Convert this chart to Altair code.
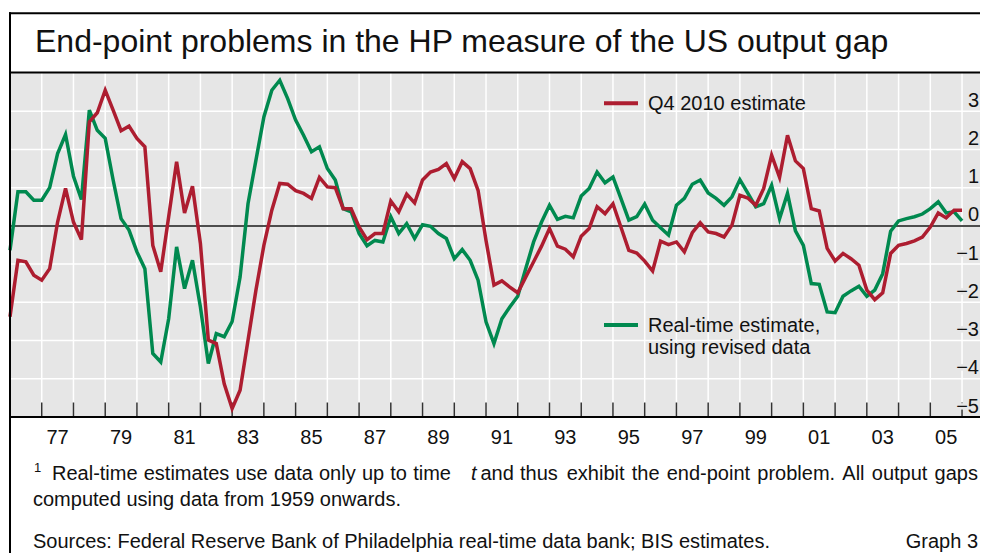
import altair as alt
import pandas as pd

# ---------------- data ----------------
start_year = 1976
n_quarters = 121
quarters = [start_year + 0.25 * i for i in range(n_quarters)]

q4_2010 = [
    -2.38, -0.90, -0.94, -1.29, -1.42, -1.12, 0.10, 0.98, 0.10, -0.36,
    2.72, 2.96, 3.55, 3.03, 2.49, 2.61, 2.29, 2.07, -0.51, -1.20,
    0.24, 1.68, 0.34, 1.04, -0.46, -2.99, -3.08, -4.13, -4.78, -4.30,
    -2.99, -1.68, -0.51, 0.41, 1.11, 1.09, 0.92, 0.85, 0.72, 1.27,
    1.02, 1.00, 0.45, 0.45, -0.03, -0.36, -0.20, -0.20, 0.65, 0.37,
    0.83, 0.60, 1.20, 1.41, 1.48, 1.63, 1.24, 1.68, 1.50, 0.93,
    -0.38, -1.55, -1.44, -1.60, -1.75, -1.34, -0.94, -0.53, -0.07, -0.53,
    -0.61, -0.81, -0.27, -0.07, 0.50, 0.32, 0.58, -0.03, -0.64, -0.71,
    -0.92, -1.18, -0.40, -0.49, -0.42, -0.68, -0.18, 0.08, -0.16, -0.20,
    -0.29, 0.02, 0.80, 0.73, 0.54, 0.98, 1.85, 1.27, 2.37, 1.70,
    1.50, 0.45, 0.39, -0.59, -0.92, -0.72, -0.86, -1.03, -1.68, -1.93,
    -1.75, -0.72, -0.51, -0.46, -0.39, -0.29, -0.03, 0.34, 0.21, 0.41,
    0.41,
]

real_time = [
    -0.64, 0.89, 0.89, 0.67, 0.67, 1.00, 1.89, 2.39, 1.30, 0.69,
    3.03, 2.50, 2.29, 1.20, 0.19, -0.11, -0.68, -1.12, -3.34, -3.56,
    -2.43, -0.55, -1.64, -0.90, -2.12, -3.60, -2.82, -2.90, -2.50, -1.34,
    0.58, 1.72, 2.85, 3.55, 3.81, 3.33, 2.77, 2.37, 1.94, 2.07,
    1.50, 1.20, 0.45, 0.37, -0.20, -0.52, -0.38, -0.42, 0.24, -0.20,
    0.06, -0.33, 0.03, -0.01, -0.20, -0.33, -0.86, -0.62, -0.90, -1.42,
    -2.51, -3.08, -2.43, -2.12, -1.84, -1.12, -0.42, 0.10, 0.54, 0.17,
    0.25, 0.21, 0.78, 0.98, 1.41, 1.13, 1.28, 0.72, 0.15, 0.24,
    0.57, 0.15, -0.05, -0.24, 0.54, 0.72, 1.09, 1.20, 0.86, 0.72,
    0.54, 0.76, 1.21, 0.86, 0.50, 0.58, 1.06, 0.19, 0.85, -0.13,
    -0.51, -1.51, -1.53, -2.25, -2.27, -1.84, -1.70, -1.58, -1.84, -1.68,
    -1.25, -0.14, 0.13, 0.19, 0.24, 0.31, 0.45, 0.63, 0.34, 0.37,
    0.13,
]

grid_years = list(range(1977, 2007))
y_grid = [-4, -3, -2, -1, 1, 2, 3]
y_tick_values = [-5, -4, -3, -2, -1, 0, 1, 2, 3]
y_tick_labels = ["\u22125", "\u22124", "\u22123", "\u22122", "\u22121", "0", "1", "2", "3"]
x_label_years = [1977, 1979, 1981, 1983, 1985, 1987, 1989, 1991, 1993,
                 1995, 1997, 1999, 2001, 2003, 2005]
x_labels = ["77", "79", "81", "83", "85", "87", "89", "91", "93",
            "95", "97", "99", "01", "03", "05"]

# footnote line 1 is justified in the reference: one text per word
foot_words = ["Real-time", "estimates", "use", "data", "only", "up", "to", "time",
              "t", "and", "thus", "exhibit", "the", "end-point", "problem.",
              "All", "output", "gaps"]
foot_x = [42, 133.75, 225.5, 263.9, 309, 351.9, 380.3, 403.2,
          461, 470.5, 510, 556.7, 621.7, 656.7, 747.3,
          832.3, 861.8, 924.6]

# ---------------- styling ----------------
W, H = 970, 344
FONT = "Liberation Sans"
RED = "#ad1d30"
GREEN = "#00894f"
TXT = "#111111"
BG = "#e6e6e6"

xs = alt.Scale(domain=[1976, 2006.566], nice=False, zero=False)
ys = alt.Scale(domain=[-5, 4], nice=False, zero=False)

ann = pd.DataFrame({"a": [0]})


def txt(s, x, y, size=20, align="left", style="normal"):
    return alt.Chart(ann).mark_text(
        text=s, align=align, baseline="alphabetic", fontSize=size,
        font=FONT, fontStyle=style, color=TXT
    ).encode(x=alt.value(x), y=alt.value(y))


def hline(y, x0=-1, x1=W + 10, color="black", w=2):
    return alt.Chart(ann).mark_rule(color=color, strokeWidth=w).encode(
        x=alt.value(x0), x2=alt.value(x1), y=alt.value(y))


years_df = pd.DataFrame({"t": grid_years})

vgrid = alt.Chart(years_df).mark_rule(color="white", strokeWidth=1.5).encode(
    x=alt.X("t:Q", scale=xs, axis=None), y=alt.value(0), y2=alt.value(H))

hgrid = alt.Chart(pd.DataFrame({"v": y_grid})).mark_rule(
    color="white", strokeWidth=1.5).encode(
    y=alt.Y("v:Q", scale=ys, axis=None), x=alt.value(0), x2=alt.value(W))

zero = alt.Chart(pd.DataFrame({"v": [0]})).mark_rule(
    color="#4d4d4d", strokeWidth=2).encode(
    y=alt.Y("v:Q", scale=ys, axis=None), x=alt.value(0), x2=alt.value(W))

ticks = alt.Chart(years_df).mark_rule(color="#333333", strokeWidth=1.5).encode(
    x=alt.X("t:Q", scale=xs, axis=None), y=alt.value(H - 14.5), y2=alt.value(H))

green_df = pd.DataFrame({"t": quarters, "value": real_time})
red_df = pd.DataFrame({"t": quarters, "value": q4_2010})

green_line = alt.Chart(green_df).mark_line(color=GREEN, strokeWidth=3.5).encode(
    x=alt.X("t:Q", scale=xs, axis=None), y=alt.Y("value:Q", scale=ys, axis=None))
red_line = alt.Chart(red_df).mark_line(color=RED, strokeWidth=3.5).encode(
    x=alt.X("t:Q", scale=xs, axis=None), y=alt.Y("value:Q", scale=ys, axis=None))

ylab_df = pd.DataFrame({"v": y_tick_values, "lab": y_tick_labels})
ylabels_halo = alt.Chart(ylab_df).mark_text(
    align="right", baseline="alphabetic", dy=-4.5, fontSize=20, font=FONT,
    fill=BG, stroke=BG, strokeWidth=5
).encode(y=alt.Y("v:Q", scale=ys, axis=None), x=alt.value(969), text="lab:N")
ylabels = alt.Chart(ylab_df).mark_text(
    align="right", baseline="alphabetic", dy=-4.5, fontSize=20, font=FONT, color=TXT
).encode(y=alt.Y("v:Q", scale=ys, axis=None), x=alt.value(969), text="lab:N")

xlabels = alt.Chart(pd.DataFrame({"t": x_label_years, "lab": x_labels})).transform_calculate(
    mid="datum.t + 0.5"
).mark_text(
    align="center", baseline="alphabetic", fontSize=20, font=FONT, color=TXT
).encode(x=alt.X("mid:Q", scale=xs, axis=None), y=alt.value(H + 26.5), text="lab:N")

legend_red = alt.Chart(ann).mark_rule(color=RED, strokeWidth=4).encode(
    x=alt.value(594), x2=alt.value(628), y=alt.value(30.3))
legend_green = alt.Chart(ann).mark_rule(color=GREEN, strokeWidth=4).encode(
    x=alt.value(594), x2=alt.value(628), y=alt.value(252))

frame_left = alt.Chart(ann).mark_rule(color="black", strokeWidth=2).encode(
    x=alt.value(0), y=alt.value(-60.7), y2=alt.value(H + 200))

foot1 = [txt(w, x, 407, style="italic" if w == "t" else "normal")
         for w, x in zip(foot_words, foot_x)]

layers = [
    vgrid, hgrid, zero, ticks, green_line, red_line,
    hline(H), hline(-59.7), hline(-0.5), frame_left,
    legend_red, legend_green,
    txt("Q4 2010 estimate", 638, 37),
    txt("Real-time estimate,", 638, 258.7),
    txt("using revised data", 638, 281.3),
    ylabels_halo, ylabels, xlabels,
    txt("End-point problems in the HP measure of the US output gap", 25, -20.7, size=32),
    txt("1", 24, 398.7, size=13),
    *foot1,
    txt("computed using data from 1959 onwards.", 23, 433),
    txt("Sources: Federal Reserve Bank of Philadelphia real-time data bank; BIS estimates.", 23, 475.3),
    txt("Graph 3", 968, 475.3, align="right"),
]

chart = alt.layer(*layers).properties(
    width=W, height=H,
    autosize=alt.AutoSizeParams(type="none"),
    padding={"left": 2, "top": 65, "right": 0, "bottom": 136},
    background="white",
).configure_view(fill=BG, stroke=None)

chart.save("out.html", embed_options={"renderer": "svg", "actions": False})
